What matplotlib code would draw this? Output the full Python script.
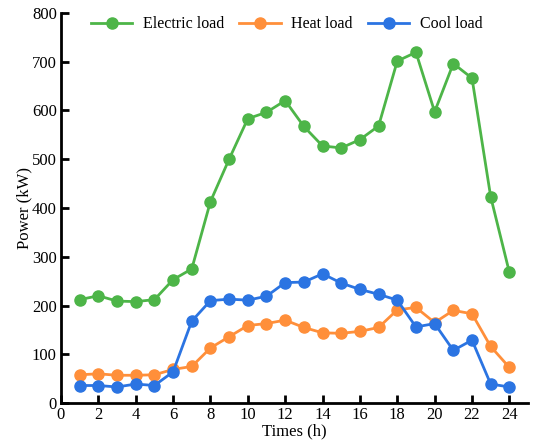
import numpy as np
import matplotlib.pyplot as plt

plt.rcParams['font.family'] = 'Liberation Serif'

hours = np.arange(1, 25)
electric = [212, 220, 209, 208, 212, 253, 275, 413, 500, 583, 596, 620, 567, 527,
            523, 540, 568, 701, 719, 597, 696, 666, 423, 268]
heat = [58, 60, 57, 57, 58, 69, 75, 113, 136, 159, 163, 170, 155, 144,
        143, 147, 155, 191, 196, 165, 190, 183, 116, 73]
cool = [36, 36, 33, 39, 36, 64, 168, 210, 213, 211, 219, 247, 248, 265,
        246, 233, 223, 211, 156, 163, 108, 129, 39, 33]

fig = plt.figure(figsize=(5.35, 4.41), dpi=100)
ax = fig.add_axes([0.114, 0.086, 0.873, 0.885])

ax.plot(hours, electric, '-o', color='#4DB548', lw=2, ms=8, label='Electric load')
ax.plot(hours, heat, '-o', color='#FF8F3A', lw=2, ms=8, label='Heat load')
ax.plot(hours, cool, '-o', color='#2B74E2', lw=2, ms=8, label='Cool load')

ax.set_xlim(0, 25)
ax.set_ylim(0, 800)
ax.set_xticks(range(0, 25, 2))
ax.set_yticks(range(0, 801, 100))
ax.spines['top'].set_visible(False)
ax.spines['right'].set_visible(False)
ax.spines['left'].set_linewidth(2)
ax.spines['bottom'].set_linewidth(2)
ax.tick_params(direction='in', width=2, length=5.5, labelsize=12, pad=3)
ax.set_xlabel('Times (h)', fontsize=12, labelpad=0)
ax.set_ylabel('Power (kW)', fontsize=12, labelpad=0)

ax.legend(loc='upper center', bbox_to_anchor=(0.483, 1.028), ncol=3, frameon=False,
          fontsize=11.5, handlelength=2.6, columnspacing=0.95, handletextpad=0.65)

fig.savefig('out.png', dpi=100)
